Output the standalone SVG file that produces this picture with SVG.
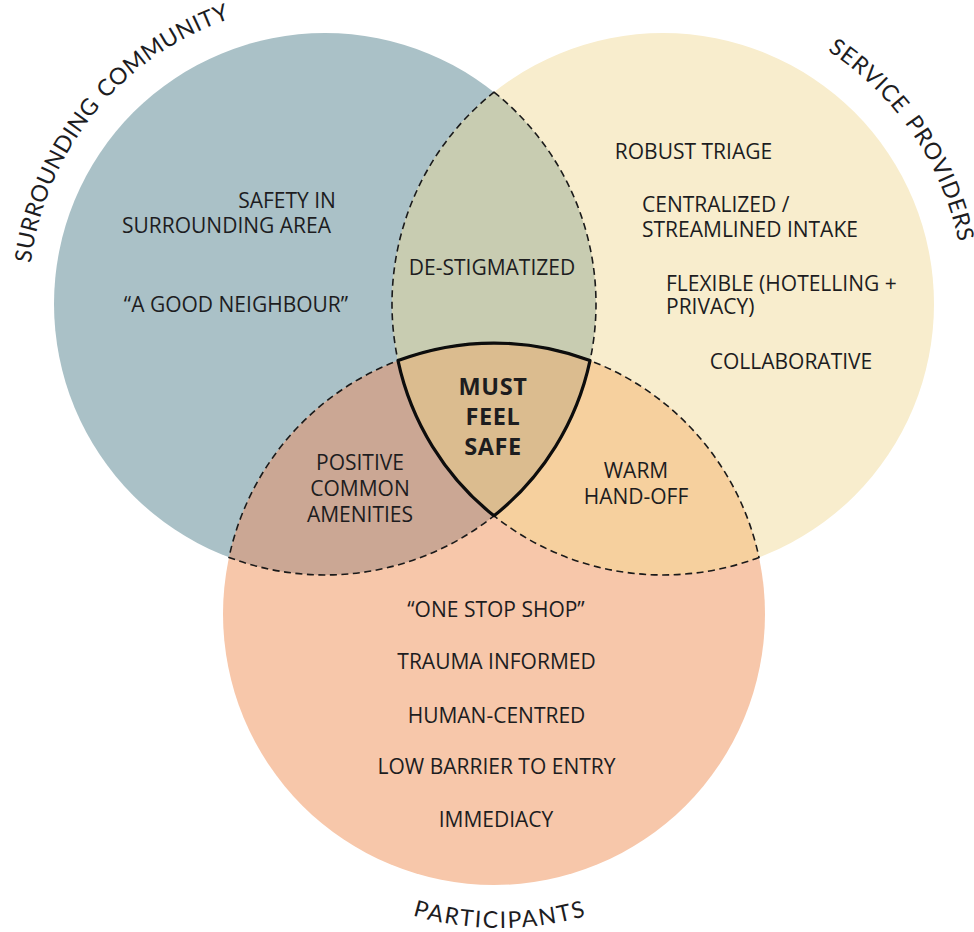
<svg xmlns="http://www.w3.org/2000/svg" width="974" height="932" viewBox="0 0 974 932">
<style>
.t{font-family:"Open Sans","Liberation Sans",sans-serif;font-size:21px;font-weight:500;fill:#1d1d1f;text-anchor:middle}
.s{text-anchor:start}
.b{font-weight:700;font-size:23.5px;letter-spacing:0.6px}
.lab{font-family:Lato,"Liberation Sans",sans-serif;font-size:23px;fill:#1d1d1f}
.dash{fill:none;stroke:#1a1a1a;stroke-width:1.6;stroke-dasharray:7 4.5}
.solid{fill:none;stroke:#0d0d0d;stroke-width:3.2;stroke-linejoin:round}
</style>
<defs>
<path id="arcL" d="M30.8,263.2 A297,297 0 0 1 299.1,4.1"/>
<path id="arcR" d="M827.5,50.7 A302,302 0 0 1 965,304"/>
<path id="arcB" d="M344.5,886.3 A311,311 0 0 0 655.5,886.3"/>
</defs>
<rect width="974" height="932" fill="#ffffff"/>

<g id="community">
<circle cx="325" cy="304" r="271" fill="#AAC1C7"/>
</g>
<g id="providers">
<circle cx="663" cy="304" r="271" fill="#F8EDCD"/>
</g>
<g id="participants">
<circle cx="494" cy="614" r="271" fill="#F7C7AA"/>
</g>

<g id="destigmatized">
<path d="M494,92.15 A271,271 0 0 1 494,515.85 A271,271 0 0 1 494,92.15 Z" fill="#C8CCB1"/>
</g>
<g id="amenities">
<path d="M590,360.6 A271,271 0 0 1 229,557.4 A271,271 0 0 1 590,360.6 Z" fill="#CBA794"/>
</g>
<g id="handoff">
<path d="M759,557.4 A271,271 0 0 1 398,360.6 A271,271 0 0 1 759,557.4 Z" fill="#F6D09E"/>
</g>
<g id="mustfeelsafe">
<path d="M398,360.6 A271,271 0 0 1 590,360.6 A271,271 0 0 1 494,515.85 A271,271 0 0 1 398,360.6 Z" fill="#DBBC8F"/>
</g>

<g id="connectors">
<path class="dash" d="M494,92.15 A271,271 0 0 1 494,515.85 A271,271 0 0 1 494,92.15 Z"/>
<path class="dash" d="M590,360.6 A271,271 0 0 1 229,557.4 A271,271 0 0 1 590,360.6 Z"/>
<path class="dash" d="M759,557.4 A271,271 0 0 1 398,360.6 A271,271 0 0 1 759,557.4 Z"/>
<path class="solid" d="M398,360.6 A271,271 0 0 1 590,360.6 A271,271 0 0 1 494,515.85 A271,271 0 0 1 398,360.6 Z"/>
</g>

<g id="labels">
<text class="lab" letter-spacing="0.5" word-spacing="2"><textPath href="#arcL">SURROUNDING COMMUNITY</textPath></text>
<text class="lab" letter-spacing="0.8" word-spacing="3"><textPath href="#arcR">SERVICE PROVIDERS</textPath></text>
<text class="lab" font-size="20" letter-spacing="1.8" text-anchor="middle"><textPath href="#arcB" startOffset="50%">PARTICIPANTS</textPath></text>
</g>

<g id="community-text">
<text class="t" x="287" y="208">SAFETY IN</text>
<text class="t" x="226.5" y="233">SURROUNDING AREA</text>
<text class="t" x="236" y="312">“A GOOD NEIGHBOUR”</text>
</g>
<g id="providers-text">
<text class="t" x="693.5" y="159">ROBUST TRIAGE</text>
<text class="t s" x="642" y="212">CENTRALIZED /</text>
<text class="t s" x="642" y="237">STREAMLINED INTAKE</text>
<text class="t s" x="666" y="290.5">FLEXIBLE (HOTELLING +</text>
<text class="t s" x="666" y="314">PRIVACY)</text>
<text class="t" x="791" y="369">COLLABORATIVE</text>
</g>
<g id="center-text">
<text class="t" x="492" y="275">DE-STIGMATIZED</text>
<text class="t b" x="493" y="395">MUST</text>
<text class="t b" x="493" y="425">FEEL</text>
<text class="t b" x="493" y="455">SAFE</text>
<text class="t" x="360" y="470">POSITIVE</text>
<text class="t" x="360" y="496">COMMON</text>
<text class="t" x="360" y="522">AMENITIES</text>
<text class="t" x="636" y="478">WARM</text>
<text class="t" x="636" y="504">HAND-OFF</text>
</g>
<g id="participants-text">
<text class="t" x="496" y="616.5">“ONE STOP SHOP”</text>
<text class="t" x="496.5" y="669">TRAUMA INFORMED</text>
<text class="t" x="496.5" y="722.5">HUMAN-CENTRED</text>
<text class="t" x="496.5" y="774">LOW BARRIER TO ENTRY</text>
<text class="t" x="496" y="827">IMMEDIACY</text>
</g>
</svg>
